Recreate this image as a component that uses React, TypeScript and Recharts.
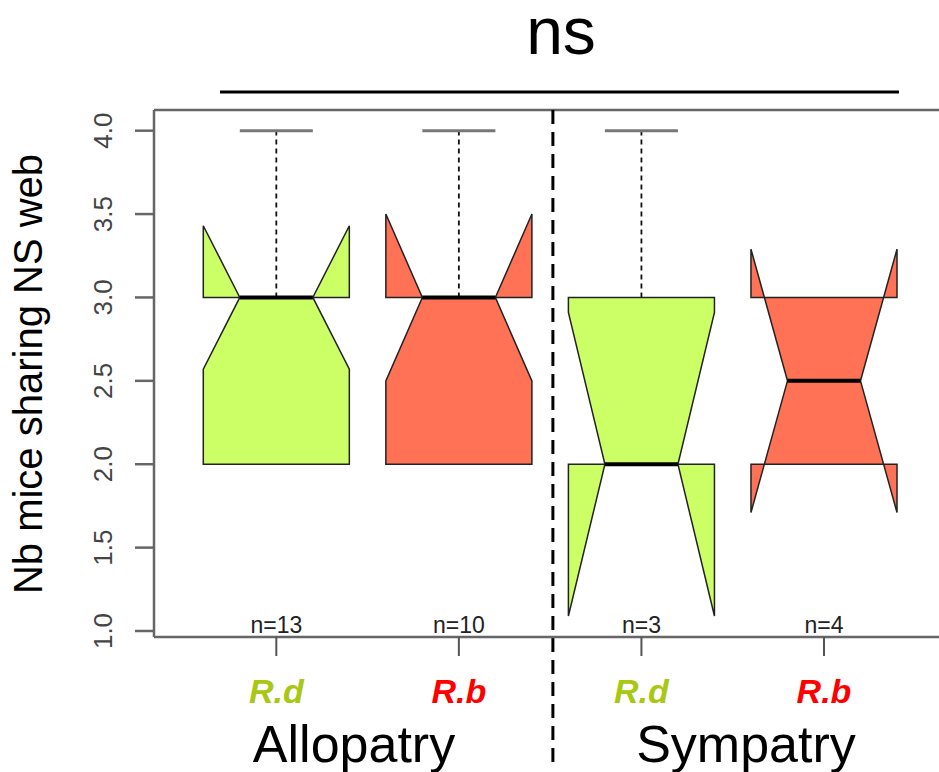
import React from 'react';
import { ComposedChart, XAxis, YAxis, ReferenceArea, ReferenceLine, ReferenceDot, Scatter } from 'recharts';

// ---- data ----
const CATEGORIES = ['R.d', 'R.b', 'R.d', 'R.b'];
const POSITIONS = [1, 2, 3, 4];
const GROUPS = ['Allopatry', 'Sympatry'];
const N_OBS = [13, 10, 3, 4];
const Q1 = [2, 2, 2, 2];
const MEDIAN = [3, 3, 2, 2.5];
const Q3 = [3, 3, 3, 3];
const WHISK_LO = [2, 2, 2, 2];
const WHISK_HI = [4, 4, 4, 3];
const NOTCH_LO = [2.57, 2.5, 1.09, 1.71];
const NOTCH_HI = [3.43, 3.5, 2.91, 3.29];
const Y_TICKS = [1, 1.5, 2, 2.5, 3, 3.5, 4];
const SIGNIF = 'ns';
const Y_LABEL = 'Nb mice sharing NS web';

// ---- styles ----
const FILLS = ['#CCFF66', '#FF7256', '#CCFF66', '#FF7256'];
const LABEL_COLORS = ['#A8C814', '#FF0000', '#A8C814', '#FF0000'];
const FONT = '"Liberation Sans", Arial, sans-serif';
const X_DOMAIN: [number, number] = [0.33, 4.63];
const Y_DOMAIN: [number, number] = [0.964, 4.124];
const BOX_HALF = 0.4;
const SEPARATOR_X = 2.515;
const N_LABEL_Y = 1;

const chartData = POSITIONS.map((p, i) => ({ x: p, y: MEDIAN[i] }));

function makeBoxShape(i: number, lo: number, hi: number) {
  return (props: any) => {
    const { x, y, width, height } = props;
    const py = (v: number) => y + (height * (hi - v)) / (hi - lo);
    const cx = x + width / 2;
    const xL = x;
    const xR = x + width;
    const nL = cx - width / 4;
    const nR = cx + width / 4;
    const q1 = py(Q1[i]);
    const q3 = py(Q3[i]);
    const md = py(MEDIAN[i]);
    const nlo = py(NOTCH_LO[i]);
    const nhi = py(NOTCH_HI[i]);
    const pts = [
      [xL, q1], [xL, nlo], [nL, md], [xL, nhi], [xL, q3],
      [xR, q3], [xR, nhi], [nR, md], [xR, nlo], [xR, q1],
    ].map((p) => p.join(',')).join(' ');
    const whiskers: any[] = [];
    if (WHISK_HI[i] > Q3[i]) {
      const wy = py(WHISK_HI[i]);
      whiskers.push(
        <line key="wh" x1={cx} y1={q3} x2={cx} y2={wy} stroke="#111" strokeWidth={1.8} strokeDasharray="5 4" />,
        <line key="sh" x1={nL} y1={wy} x2={nR} y2={wy} stroke="#777" strokeWidth={3} />
      );
    }
    if (WHISK_LO[i] < Q1[i]) {
      const wy = py(WHISK_LO[i]);
      whiskers.push(
        <line key="wl" x1={cx} y1={q1} x2={cx} y2={wy} stroke="#111" strokeWidth={1.8} strokeDasharray="5 4" />,
        <line key="sl" x1={nL} y1={wy} x2={nR} y2={wy} stroke="#777" strokeWidth={3} />
      );
    }
    return (
      <g>
        {whiskers}
        <polygon points={pts} fill={FILLS[i]} stroke="#222" strokeWidth={1.5} strokeLinejoin="miter" />
        <line x1={nL} y1={md} x2={nR} y2={md} stroke="#000" strokeWidth={4} />
      </g>
    );
  };
}

const XTick = (props: any) => {
  const { x, y, payload } = props;
  const i = POSITIONS.indexOf(payload.value);
  if (i < 0) return null;
  return (
    <text x={x} y={y} textAnchor="middle" fill={LABEL_COLORS[i]} fontSize={34} fontWeight="bold" fontStyle="italic" fontFamily={FONT}>
      {CATEGORIES[i]}
    </text>
  );
};

const YTick = (props: any) => {
  const { x, y, payload } = props;
  return (
    <text x={x} y={y} transform={`rotate(-90 ${x} ${y})`} textAnchor="middle" fill="#444" fontSize={26} fontFamily={FONT}>
      {Number(payload.value).toFixed(1)}
    </text>
  );
};

export default function App() {
  return (
    <div style={{ position: 'absolute', left: 0, top: 0, width: 939, height: 772, background: '#fff' }}>
      <ComposedChart
        width={939}
        height={772}
        data={chartData}
        margin={{ top: 110, right: 0, bottom: 95, left: 94 }}
      >
        <XAxis
          type="number"
          dataKey="x"
          domain={X_DOMAIN}
          ticks={POSITIONS}
          interval={0}
          allowDataOverflow
          height={40}
          tickSize={19}
          tickMargin={47}
          tick={<XTick />}
          axisLine={{ stroke: '#666', strokeWidth: 2.5 }}
          tickLine={{ stroke: '#555', strokeWidth: 2 }}
        />
        <YAxis
          type="number"
          domain={Y_DOMAIN}
          ticks={Y_TICKS}
          interval={0}
          allowDataOverflow
          width={60}
          tickSize={19}
          tickMargin={23}
          tick={<YTick />}
          axisLine={{ stroke: '#666', strokeWidth: 2.5 }}
          tickLine={{ stroke: '#666', strokeWidth: 2.5 }}
        />
        <ReferenceLine y={Y_DOMAIN[1]} stroke="#666" strokeWidth={2.5} ifOverflow="visible" />
        <Scatter dataKey="y" isAnimationActive={false} shape={() => <g />} />
        {POSITIONS.map((p, i) => {
          const lo = Math.min(Q1[i], NOTCH_LO[i], WHISK_LO[i]);
          const hi = Math.max(Q3[i], NOTCH_HI[i], WHISK_HI[i]);
          return (
            <ReferenceArea
              key={'box' + i}
              x1={p - BOX_HALF}
              x2={p + BOX_HALF}
              y1={lo}
              y2={hi}
              ifOverflow="visible"
              shape={makeBoxShape(i, lo, hi)}
            />
          );
        })}
        {POSITIONS.map((p, i) => (
          <ReferenceDot
            key={'n' + i}
            x={p}
            y={N_LABEL_Y}
            r={0}
            ifOverflow="visible"
            shape={(sp: any) => (
              <text x={sp.cx} y={sp.cy + 2} textAnchor="middle" fontSize={23} fill="#222" fontFamily={FONT}>
                {'n=' + N_OBS[i]}
              </text>
            )}
          />
        ))}
        <ReferenceLine
          x={SEPARATOR_X}
          ifOverflow="visible"
          shape={(sp: any) => {
            const top = Math.min(sp.y1, sp.y2);
            const bot = Math.max(sp.y1, sp.y2);
            return <line x1={sp.x1} y1={top} x2={sp.x2} y2={bot + 128} stroke="#000" strokeWidth={3} strokeDasharray="14 8" />;
          }}
        />
      </ComposedChart>
      <svg width={939} height={772} style={{ position: 'absolute', left: 0, top: 0, pointerEvents: 'none' }}>
        <text x={561} y={54} textAnchor="middle" fontSize={66} fontFamily={FONT} fill="#000">{SIGNIF}</text>
        <line x1={220} y1={92} x2={899} y2={92} stroke="#000" strokeWidth={3} />
        <text
          x={0}
          y={0}
          transform="translate(42 374) rotate(-90)"
          textAnchor="middle"
          fontSize={40}
          fontFamily={FONT}
          fill="#000"
        >
          {Y_LABEL}
        </text>
        <text x={354} y={762} textAnchor="middle" fontSize={52} fontFamily={FONT} fill="#000">{GROUPS[0]}</text>
        <text x={746} y={762} textAnchor="middle" fontSize={52} fontFamily={FONT} fill="#000">{GROUPS[1]}</text>
      </svg>
    </div>
  );
}
